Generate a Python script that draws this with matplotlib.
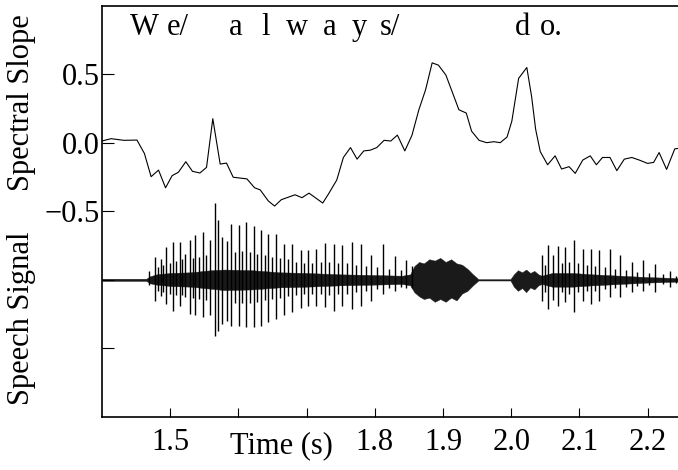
import numpy as np
import matplotlib
matplotlib.use("Agg")
import matplotlib.pyplot as plt

plt.rcParams['font.family'] = ['Liberation Serif', 'DejaVu Serif']
plt.rcParams['axes.unicode_minus'] = True

# spectral slope track (time in s, slope)
slope_t = [1.3998, 1.4133, 1.4323, 1.4513, 1.4622, 1.4720, 1.4829, 1.4932, 1.5029, 1.5120,
           1.5229, 1.5327, 1.5436, 1.5533, 1.5625, 1.5733, 1.5826, 1.5924, 1.6125, 1.6238,
           1.6320, 1.6439, 1.6531, 1.6629, 1.6830, 1.6933, 1.7036, 1.7237, 1.7323, 1.7443,
           1.7540, 1.7644, 1.7741, 1.7839, 1.7932, 1.8029, 1.8137, 1.8235, 1.8332, 1.8441,
           1.8545, 1.8647, 1.8745, 1.8842, 1.8934, 1.9043, 1.9234, 1.9342, 1.9420, 1.9530,
           1.9640, 1.9748, 1.9840, 1.9940, 2.0010, 2.0110, 2.0230, 2.0300, 2.0360, 2.0427,
           2.0535, 2.0645, 2.0740, 2.0850, 2.0940, 2.1050, 2.1160, 2.1250, 2.1340, 2.1450,
           2.1550, 2.1660, 2.1770, 2.1880, 2.2000, 2.2090, 2.2170, 2.2280, 2.2400, 2.2480]
slope_v = [0.012, 0.029, 0.017, 0.019, -0.079, -0.248, -0.200, -0.329, -0.240, -0.216,
           -0.139, -0.209, -0.221, -0.180, 0.175, -0.156, -0.149, -0.252, -0.264, -0.329,
           -0.344, -0.425, -0.462, -0.416, -0.380, -0.401, -0.368, -0.440, -0.373, -0.272,
           -0.108, -0.036, -0.120, -0.060, -0.055, -0.036, 0.017, 0.012, 0.055, -0.060,
           0.053, 0.240, 0.385, 0.582, 0.565, 0.493, 0.240, 0.216, 0.084, 0.017,
           0.000, 0.007, 0.000, 0.041, 0.156, 0.469, 0.548, 0.337, 0.096, -0.065,
           -0.161, -0.096, -0.192, -0.175, -0.224, -0.127, -0.096, -0.161, -0.108, -0.108,
           -0.204, -0.120, -0.108, -0.127, -0.151, -0.144, -0.072, -0.195, -0.045, -0.040]

# speech signal: pitch pulses (time, upper peak, lower peak)
pulse_t = [1.4693, 1.4774, 1.4820, 1.4860, 1.4900, 1.4937, 1.4990, 1.5040, 1.5090, 1.5137,
           1.5180, 1.5219, 1.5284, 1.5330, 1.5371, 1.5420, 1.5479, 1.5530, 1.5582, 1.5653,
           1.5696, 1.5761, 1.5830, 1.5897, 1.5950, 1.6005, 1.6060, 1.6114, 1.6170, 1.6222,
           1.6280, 1.6331, 1.6385, 1.6439, 1.6495, 1.6548, 1.6610, 1.6673, 1.6730, 1.6792,
           1.6850, 1.6912, 1.6965, 1.7020, 1.7085, 1.7145, 1.7205, 1.7270, 1.7335, 1.7400,
           1.7460, 1.7525, 1.7590, 1.7660, 1.7725, 1.7796, 1.7870, 1.7948, 1.8035, 1.8121,
           1.8210, 1.8295, 1.8380, 1.8463, 1.8540,
           2.0454, 2.0500, 2.0547, 2.0620, 2.0688, 2.0740, 2.0796, 2.0855, 2.0915, 2.0980,
           2.1051, 2.1115, 2.1176, 2.1235, 2.1295, 2.1370, 2.1447, 2.1520, 2.1594, 2.1680,
           2.1773, 2.1850, 2.1935, 2.2020, 2.2109, 2.2220, 2.2326, 2.2420]
pulse_hi = [0.068, 0.166, 0.090, 0.150, 0.110, 0.239, 0.120, 0.276, 0.140, 0.276,
            0.150, 0.190, 0.293, 0.160, 0.324, 0.170, 0.349, 0.180, 0.288, 0.561,
            0.434, 0.312, 0.280, 0.410, 0.200, 0.398, 0.210, 0.422, 0.200, 0.390,
            0.190, 0.361, 0.180, 0.337, 0.170, 0.337, 0.160, 0.263, 0.150, 0.263,
            0.130, 0.220, 0.120, 0.215, 0.120, 0.227, 0.130, 0.268, 0.130, 0.263,
            0.120, 0.251, 0.120, 0.276, 0.110, 0.263, 0.100, 0.178, 0.090, 0.263,
            0.080, 0.171, 0.070, 0.141, 0.100,
            0.178, 0.110, 0.251, 0.180, 0.244, 0.120, 0.239, 0.130, 0.288, 0.120,
            0.227, 0.110, 0.227, 0.100, 0.215, 0.090, 0.227, 0.080, 0.178, 0.070,
            0.129, 0.060, 0.141, 0.050, 0.117, 0.040, 0.068, 0.030]
pulse_lo = [-0.041, -0.151, -0.080, -0.120, -0.090, -0.176, -0.100, -0.229, -0.110, -0.188,
            -0.110, -0.127, -0.249, -0.130, -0.254, -0.140, -0.273, -0.150, -0.254, -0.407,
            -0.371, -0.322, -0.300, -0.334, -0.170, -0.334, -0.170, -0.346, -0.170, -0.346,
            -0.160, -0.334, -0.150, -0.310, -0.140, -0.285, -0.130, -0.254, -0.120, -0.237,
            -0.110, -0.205, -0.100, -0.188, -0.100, -0.188, -0.100, -0.200, -0.110, -0.229,
            -0.100, -0.188, -0.100, -0.212, -0.090, -0.188, -0.080, -0.151, -0.070, -0.102,
            -0.060, -0.078, -0.050, -0.059, -0.060,
            -0.151, -0.090, -0.212, -0.150, -0.188, -0.090, -0.163, -0.100, -0.237, -0.090,
            -0.151, -0.080, -0.176, -0.080, -0.151, -0.070, -0.127, -0.060, -0.127, -0.050,
            -0.090, -0.045, -0.078, -0.040, -0.090, -0.030, -0.054, -0.025]

# speech signal: envelope of the dense part (incl. fricative and burst)
body_t = [1.400, 1.465, 1.470, 1.480, 1.500, 1.530, 1.560, 1.580, 1.620, 1.660,
          1.700, 1.750, 1.800, 1.840, 1.852, 1.858, 1.865, 1.872, 1.880, 1.888,
          1.896, 1.904, 1.912, 1.920, 1.928, 1.936, 1.944, 1.952, 1.999, 2.004,
          2.010, 2.016, 2.022, 2.028, 2.034, 2.040, 2.045, 2.060, 2.090, 2.120,
          2.160, 2.200, 2.250]
body_hi = [0.008, 0.008, 0.025, 0.040, 0.050, 0.055, 0.070, 0.075, 0.070, 0.055,
           0.050, 0.040, 0.035, 0.030, 0.040, 0.100, 0.130, 0.120, 0.150, 0.140,
           0.160, 0.130, 0.150, 0.120, 0.110, 0.080, 0.040, 0.005, 0.005, 0.040,
           0.070, 0.055, 0.075, 0.050, 0.065, 0.040, 0.030, 0.050, 0.050, 0.040,
           0.030, 0.020, 0.012]
body_lo = [-0.008, -0.008, -0.025, -0.035, -0.045, -0.050, -0.065, -0.075, -0.070, -0.055,
           -0.050, -0.040, -0.035, -0.030, -0.040, -0.090, -0.120, -0.140, -0.130, -0.160,
           -0.140, -0.160, -0.130, -0.150, -0.100, -0.080, -0.040, -0.005, -0.005, -0.050,
           -0.080, -0.060, -0.090, -0.055, -0.070, -0.040, -0.030, -0.050, -0.050, -0.040,
           -0.030, -0.020, -0.012]

# transcription tokens and their time positions
words = ['W', 'e/', 'a', 'l', 'w', 'a', 'y', 's/', 'd', 'o.']
word_t = [1.4616, 1.5115, 1.5965, 1.6405, 1.6860, 1.7344, 1.7769, 1.8223, 2.0174, 2.0584]

xticks = [1.5, 1.6, 1.7, 1.8, 1.9, 2.0, 2.1, 2.2]
xlabels = ['1.5', '', '', '1.8', '1.9', '2.0', '2.1', '2.2']
yticks = [0.5, 0.0, -0.5, -1.0, -1.5]
ylabels = ['0.5', '0.0', '\u22120.5', '', '']

speech_center = -1.0

fig = plt.figure(figsize=(6.78, 4.70), dpi=100)
ax = fig.add_axes([102 / 678, 53 / 470, 579.6 / 678, 411.5 / 470])

ax.plot(slope_t, slope_v, color='black', lw=0.8)
ax.fill_between(body_t, speech_center + np.array(body_lo), speech_center + np.array(body_hi),
                color='0.1', lw=0.3)
ax.vlines(pulse_t, speech_center + np.array(pulse_lo), speech_center + np.array(pulse_hi),
          color='black', lw=1.0)

for w, t in zip(words, word_t):
    ax.text(t, 0.84, w, ha='center', va='center', fontsize=22)

ax.set_xlim(1.4, 2.25)
ax.set_ylim(-2.0, 1.0)
ax.set_xticks(xticks)
ax.set_xticklabels(xlabels, fontsize=22)
ax.set_yticks(yticks)
ax.set_yticklabels(ylabels, fontsize=22)
ax.tick_params(axis='x', direction='in', length=6.5, width=0.8, pad=8)
ax.tick_params(axis='y', direction='in', length=8.6, width=0.8, pad=1.5)
for s in ax.spines.values():
    s.set_linewidth(1.2)

ax.text(1.6625, -0.07, 'Time (s)', transform=ax.get_xaxis_transform(),
        ha='center', va='center', fontsize=22)
ax.text(-0.139, 0.29, 'Spectral Slope', transform=ax.get_yaxis_transform(),
        rotation=90, ha='center', va='center', fontsize=22)
ax.text(-0.139, -1.28, 'Speech Signal', transform=ax.get_yaxis_transform(),
        rotation=90, ha='center', va='center', fontsize=22)

fig.savefig('out.png', dpi=100)
